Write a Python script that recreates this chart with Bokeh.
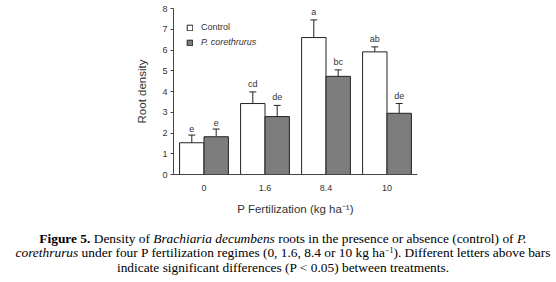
from bokeh.plotting import figure
from bokeh.models import (FactorRange, ColumnDataSource, Whisker, TeeHead, Legend, LegendItem,
                          Div, FixedTicker)
from bokeh.transform import dodge
from bokeh.layouts import column
from bokeh.core.properties import value
from bokeh.embed import file_html
from bokeh.resources import INLINE

groups = ["0", "1.6", "8.4", "10"]
control = [1.53, 3.42, 6.60, 5.91]
control_err = [1.90, 3.98, 7.45, 6.15]
control_letters = ["e", "cd", "a", "ab"]
pcor = [1.82, 2.79, 4.73, 2.95]
pcor_err = [2.19, 3.33, 5.04, 3.42]
pcor_letters = ["e", "de", "bc", "de"]
y_ticks = [0, 1, 2, 3, 4, 5, 6, 7, 8]

src = ColumnDataSource(dict(g=groups, c=control, ce=control_err, cl=control_letters,
                            p=pcor, pe=pcor_err, pl=pcor_letters))

FONT = "Liberation Sans"
p = figure(width=556, height=227, x_range=FactorRange(*groups, range_padding=0),
           y_range=(0, 8), output_backend="svg", toolbar_location=None,
           min_border_left=173, min_border_right=139, min_border_top=8, min_border_bottom=53)
p.outline_line_color = None
p.xgrid.grid_line_color = None
p.ygrid.grid_line_color = None
p.background_fill_color = "white"

r1 = p.vbar(x=dodge("g", -0.2, range=p.x_range), top="c", width=0.4, source=src,
            fill_color="white", line_color="#222222", line_width=1)
r2 = p.vbar(x=dodge("g", 0.2, range=p.x_range), top="p", width=0.4, source=src,
            fill_color="#7d7d7d", line_color="#222222", line_width=1)

for off, top, err in [(-0.2, "c", "ce"), (0.2, "p", "pe")]:
    w = Whisker(source=src, base=dodge("g", off, range=p.x_range), lower=top, upper=err,
                dimension="height", line_color="#222222", line_width=1,
                upper_head=TeeHead(size=7, line_color="#222222", line_width=1), lower_head=None)
    p.add_layout(w)

for off, err, lab in [(-0.2, "ce", "cl"), (0.2, "pe", "pl")]:
    p.text(x=dodge("g", off, range=p.x_range), y=err, text=lab, source=src,
           text_align="center", text_baseline="bottom", y_offset=-3,
           text_font=value(FONT), text_font_size="9px", text_color="#333333")

p.yaxis.ticker = FixedTicker(ticks=y_ticks)
p.yaxis.minor_tick_line_color = None
p.yaxis.major_tick_out = 3
p.yaxis.major_tick_in = 0
p.yaxis.major_label_standoff = 3
p.yaxis.axis_label = "Root density"
p.yaxis.axis_label_standoff = 11
p.xaxis.major_label_standoff = 4
p.xaxis.axis_label = "P Fertilization (kg ha\u207b\u00b9)"
p.xaxis.axis_label_standoff = 9
for ax in (p.xaxis, p.yaxis):
    ax.axis_line_color = "#444444"
    ax.major_label_text_font = FONT
    ax.major_label_text_font_size = "9px"
    ax.major_label_text_color = "#333333"
    ax.axis_label_text_font = FONT
    ax.axis_label_text_font_size = "11.5px"
    ax.axis_label_text_font_style = "normal"
    ax.axis_label_text_color = "#333333"
p.yaxis.major_tick_line_color = "#444444"
p.xaxis.major_tick_line_color = None

for item_r, lab, style, vy in [(r1, "Control", "normal", 142), (r2, "P. corethrurus", "italic", 127)]:
    lg = Legend(items=[LegendItem(label=lab, renderers=[item_r])], location=(13, vy),
                glyph_width=7, glyph_height=7, label_height=9, label_standoff=8,
                padding=0, margin=0, spacing=0, border_line_color=None,
                background_fill_alpha=0, label_text_font=FONT, label_text_font_size="9px",
                label_text_font_style=style, label_text_color="#333333")
    p.add_layout(lg)

caption = Div(
    text=("<b>Figure 5.</b> Density of <i>Brachiaria decumbens</i> roots in the presence or absence (control) of <i>P.</i><br>"
          "<i>corethrurus</i> under four P fertilization regimes (0, 1.6, 8.4 or 10 kg ha"
          "<span style=\"font-size:8px;vertical-align:4px;line-height:0\">\u22121</span>). Different letters above bars<br>"
          "indicate significant differences (P &lt; 0.05) between treatments."),
    width=556,
    styles={"font-family": "Liberation Serif", "font-size": "13.4px", "line-height": "14.3px",
            "text-align": "center", "color": "#000000", "white-space": "nowrap"})

layout = column(p, caption)
open("out.html", "w").write(file_html(layout, INLINE))
